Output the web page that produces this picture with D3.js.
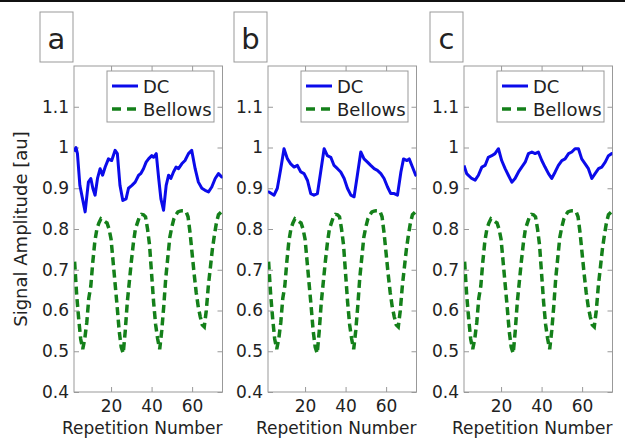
<!DOCTYPE html>
<html>
<head>
<meta charset="utf-8">
<script src="https://cdn.jsdelivr.net/npm/d3@7"></script>
<style>
  body { margin: 0; background: #fff; }
  text { font-family: "DejaVu Sans", sans-serif; fill: #222; }
</style>
</head>
<body>
<div id="chart"></div>
<script>
// respiratory bellows trace (same in every panel)
const bellowsReps = [2,3,4,5,6,7,8,9,10,11,12,13,14,15,16,17,18,19,20,21,22,23,24,25,26,27,28,29,30,31,32,33,34,35,36,37,38,39,40,41,42,43,44,45,46,47,48,49,50,51,52,53,54,55,56,57,58,59,60,61,62,63,64,65,66,67,68,69,70,71,72,73,74,75]
const bellows = [0.72,0.64,0.58,0.53,0.505,0.53,0.57,0.63,0.66,0.72,0.77,0.80,0.815,0.825,0.822,0.818,0.815,0.80,0.775,0.72,0.665,0.61,0.55,0.51,0.495,0.55,0.62,0.67,0.72,0.765,0.80,0.815,0.83,0.836,0.835,0.83,0.80,0.76,0.69,0.62,0.565,0.53,0.505,0.55,0.61,0.68,0.73,0.78,0.805,0.825,0.835,0.842,0.844,0.845,0.845,0.843,0.83,0.79,0.74,0.69,0.645,0.61,0.585,0.565,0.56,0.60,0.66,0.705,0.75,0.785,0.815,0.835,0.84,0.845]

// DC signal, panel a
const dcRepsA = [1.7,2.7,3.4,4.6,7.2,8.8,10,11,12.1,13.3,14.6,15.8,17.1,18.7,20.3,22,23.1,24.4,25.8,27.4,28.6,30.3,31.9,33.6,34.7,36,37.3,38.5,40.1,41,42.3,43.5,44.6,45.9,47.2,48.4,49.5,50.8,52.1,53.3,54.9,56.5,58.2,59.8,61.5,63.1,64.8,66.4,68.1,69.7,71.4,73,74.6,75]
const dcA = [0.99,1.0,0.985,0.907,0.842,0.915,0.924,0.90,0.883,0.924,0.948,0.932,0.952,0.972,0.968,0.993,0.985,0.907,0.870,0.874,0.90,0.907,0.915,0.932,0.936,0.948,0.964,0.972,0.98,0.976,0.985,0.924,0.874,0.846,0.907,0.932,0.924,0.94,0.952,0.948,0.96,0.968,0.985,0.993,0.948,0.915,0.90,0.895,0.891,0.903,0.924,0.936,0.928,0.93]

// DC signal, panel b
const dcRepsB = [1.7,2.2,4.7,6.3,8,9.6,11.3,12.9,14.6,16.2,17.9,19.5,21.2,22.8,24.4,26.1,27.7,29.4,31,32.7,34.3,36,37.6,39.3,40.9,42.6,44.2,45.8,47.5,49.1,50.8,52.4,54.1,55.7,57.4,59,60.7,62.3,64,65.6,67.3,68.6,70.3,71.4,73,74.6,75]
const dcB = [0.89,0.891,0.883,0.90,0.948,0.997,0.972,0.96,0.952,0.956,0.94,0.936,0.919,0.887,0.883,0.887,0.94,0.997,0.98,0.976,0.956,0.948,0.94,0.924,0.90,0.883,0.879,0.932,0.989,0.972,0.964,0.956,0.948,0.944,0.936,0.924,0.903,0.887,0.887,0.883,0.94,0.972,0.968,0.972,0.952,0.932,0.93]

// DC signal, panel c
const dcRepsC = [1.7,3,5.5,7.2,8.8,10.5,12.1,13.7,15.4,17,18.7,20.3,22,23.6,25.3,26.9,28.6,30.2,31.9,33.5,35.2,36.8,38.4,40.1,41.7,43.4,45,46.7,48.3,50,51.6,53.3,54.9,56.5,58.2,59.8,61.5,63.1,64.8,66.4,68.1,69.7,71.4,73,74.6,75]
const dcC = [0.956,0.936,0.924,0.92,0.932,0.952,0.956,0.976,0.98,0.985,0.997,0.968,0.948,0.932,0.915,0.924,0.94,0.952,0.964,0.985,0.989,0.985,0.989,0.968,0.952,0.936,0.924,0.94,0.956,0.968,0.972,0.985,0.989,0.997,0.997,0.972,0.96,0.948,0.924,0.936,0.948,0.952,0.964,0.98,0.985,0.985]

const panelLabels = ["a", "b", "c"]
const yTicks = [0.4, 0.5, 0.6, 0.7, 0.8, 0.9, 1.0, 1.1]
const xTicks = [20, 40, 60]
const seriesNames = ["DC", "Bellows"]

const panels = [
  {label: panelLabels[0], left: 74, reps: dcRepsA, dc: dcA},
  {label: panelLabels[1], left: 268, reps: dcRepsB, dc: dcB},
  {label: panelLabels[2], left: 464, reps: dcRepsC, dc: dcC},
]

const width = 625, height = 439
const plotW = 148.5, plotTop = 66, plotBottom = 392
const frameColor = "#999"
const blue = "#0b0bea", green = "#14801a"

const svg = d3.select("#chart").append("svg")
  .attr("width", width)
  .attr("height", height)

// black rule at the very top
svg.append("rect").attr("x", 0).attr("y", 0).attr("width", width).attr("height", 2).attr("fill", "#111")

const y = d3.scaleLinear().domain([0.4, 1.2]).range([plotBottom, plotTop])

svg.append("text")
  .attr("transform", `translate(26.5,${(plotTop + plotBottom) / 2}) rotate(-90)`)
  .attr("text-anchor", "middle")
  .style("font-size", "18px")
  .text("Signal Amplitude [au]")

panels.forEach((p, i) => {
  const x = d3.scaleLinear().domain([1.7, 75]).range([p.left, p.left + plotW])
  const g = svg.append("g")

  const clipId = "clip" + i
  g.append("clipPath").attr("id", clipId)
    .append("rect").attr("x", p.left).attr("y", plotTop).attr("width", plotW).attr("height", plotBottom - plotTop)

  // axes with inward ticks, MATLAB style
  const styleAxis = sel => {
    sel.select(".domain").remove()
    sel.selectAll(".tick line").attr("stroke", frameColor)
    sel.selectAll("text").style("font-size", "17px").attr("fill", "#222")
  }
  g.append("g").attr("transform", `translate(${p.left},0)`)
    .call(d3.axisLeft(y).tickValues(yTicks).tickSize(-5).tickPadding(5)
      .tickFormat(d => String(+d.toFixed(1))))
    .call(styleAxis)
  g.append("g").attr("transform", `translate(${p.left + plotW},0)`)
    .call(d3.axisRight(y).tickValues(yTicks).tickSize(-5).tickFormat(""))
    .call(styleAxis)
  g.append("g").attr("transform", `translate(0,${plotBottom})`)
    .call(d3.axisBottom(x).tickValues(xTicks).tickSize(-5).tickPadding(8))
    .call(styleAxis)
  g.append("g").attr("transform", `translate(0,${plotTop})`)
    .call(d3.axisTop(x).tickValues(xTicks).tickSize(-5).tickFormat(""))
    .call(styleAxis)

  g.append("rect")
    .attr("x", p.left).attr("y", plotTop).attr("width", plotW).attr("height", plotBottom - plotTop)
    .attr("fill", "none").attr("stroke", frameColor)

  const line = d3.line().x(d => x(d[0])).y(d => y(d[1]))

  g.append("path")
    .datum(d3.zip(bellowsReps, bellows))
    .attr("clip-path", `url(#${clipId})`)
    .attr("d", line)
    .attr("fill", "none").attr("stroke", green)
    .attr("stroke-width", 3.5).attr("stroke-dasharray", "8,4.5")

  g.append("path")
    .datum(d3.zip(p.reps, p.dc))
    .attr("clip-path", `url(#${clipId})`)
    .attr("d", line)
    .attr("fill", "none").attr("stroke", blue)
    .attr("stroke-width", 3).attr("stroke-linejoin", "round")

  // legend
  const lg = g.append("g").attr("transform", `translate(${p.left + 33},71)`)
  lg.append("rect").attr("width", 107).attr("height", 51)
    .attr("fill", "#fff").attr("stroke", frameColor)
  lg.append("line").attr("x1", 5).attr("x2", 31).attr("y1", 15).attr("y2", 15)
    .attr("stroke", blue).attr("stroke-width", 3)
  lg.append("line").attr("x1", 5).attr("x2", 31).attr("y1", 38).attr("y2", 38)
    .attr("stroke", green).attr("stroke-width", 3.5).attr("stroke-dasharray", "9,6")
  lg.append("text").attr("x", 36).attr("y", 22).style("font-size", "18px").text(seriesNames[0])
  lg.append("text").attr("x", 36).attr("y", 45).style("font-size", "18px").text(seriesNames[1])

  // panel letter box
  g.append("rect").attr("x", p.left - 34).attr("y", 12).attr("width", 33).attr("height", 50)
    .attr("fill", "none").attr("stroke", frameColor)
  g.append("text").attr("x", p.left - 17.5).attr("y", 49)
    .attr("text-anchor", "middle").style("font-size", "29px").text(p.label)

  g.append("text")
    .attr("x", p.left + plotW / 2 - 6).attr("y", 434)
    .attr("text-anchor", "middle").style("font-size", "17px")
    .text("Repetition Number")
})
</script>
</body>
</html>
